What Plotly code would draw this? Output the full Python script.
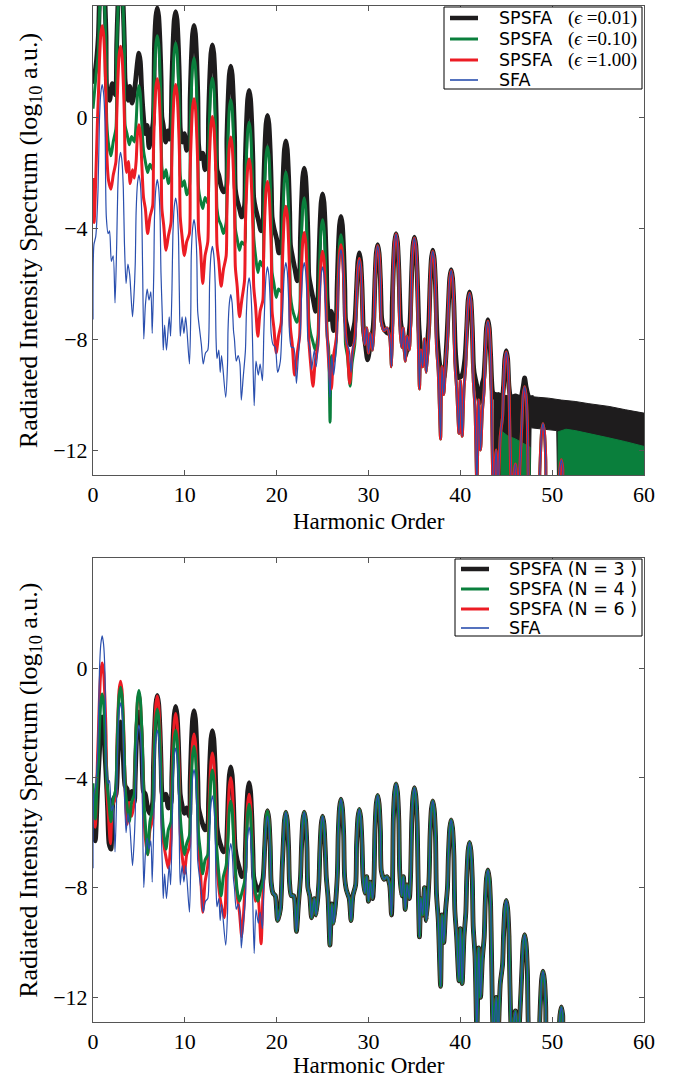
import plotly.graph_objects as go

# ---------------- data (harmonic order, log10 intensity) ----------------
ODD = list(range(1, 52, 2))

# SFA spectrum (same in both panels)
sfa_peaks = [1.17, -1.27, -2.08, -2.26, -2.92, -3.70, -4.66, -6.40, -5.80, -5.40,
             -5.25, -5.25, -5.40, -4.78, -5.15, -4.64, -4.22, -4.36, -4.84, -5.53,
             -6.35, -7.36, -8.47, -9.72, -11.05, -12.35]
sfa_floor = [(0.0, -7.3), (0.1, -4.6), (0.3, -4.3), (0.55, -2.6),
             (1.45, -3.6), (1.65, -4.2), (1.8, -4.1), (2.0, -5.2), (2.2, -5.0), (2.4, -6.7), (2.58, -4.6),
             (3.42, -4.5), (3.6, -6.0), (3.8, -5.3), (4.0, -5.7), (4.3, -7.2), (4.45, -6.5), (4.6, -5.3),
             (5.4, -5.4), (5.53, -8.0), (5.7, -6.8), (5.9, -6.2), (6.1, -6.6), (6.3, -6.3), (6.45, -7.8), (6.62, -5.6),
             (7.4, -5.6), (7.55, -7.2), (7.65, -8.4), (7.8, -7.5), (8.0, -8.4), (8.3, -7.2), (8.45, -7.9), (8.6, -6.2),
             (9.4, -6.3), (9.5, -7.9), (9.7, -7.2), (9.9, -7.8), (10.1, -7.2), (10.5, -8.9), (10.65, -7.0),
             (11.4, -7.0), (11.55, -7.5), (11.8, -8.2), (12.0, -8.9), (12.25, -8.5), (12.5, -8.4), (12.62, -7.8),
             (13.4, -8.0), (13.5, -8.7), (13.7, -8.4), (13.85, -9.2), (14.0, -8.6), (14.45, -10.1), (14.65, -8.9),
             (15.4, -8.0), (15.6, -8.8), (15.8, -8.6), (16.0, -8.9), (16.15, -10.2), (16.35, -9.4), (16.6, -8.4),
             (17.4, -8.5), (17.55, -10.4), (17.75, -8.8), (18.0, -9.3), (18.2, -8.9), (18.45, -9.5), (18.6, -7.8),
             (19.4, -7.8), (19.6, -8.2), (19.85, -8.3), (20.1, -9.2), (20.4, -8.8), (20.6, -7.3),
             (21.4, -7.8), (21.6, -8.3), (21.85, -8.3), (22.15, -9.6), (22.35, -8.7), (22.6, -7.6),
             (23.4, -8.0), (23.6, -8.3), (23.8, -9.1), (24.1, -8.4), (24.3, -9.0), (24.6, -7.8),
             (25.4, -7.6), (25.6, -8.4), (25.8, -10.1), (26.0, -8.6), (26.2, -9.3), (26.6, -7.6),
             (27.4, -7.6), (27.6, -8.1), (27.9, -8.4), (28.1, -9.2), (28.3, -8.3), (28.6, -7.9),
             (29.4, -7.6), (29.6, -8.2), (29.8, -7.6), (30.0, -8.5), (30.2, -7.8), (30.45, -8.4), (30.6, -7.6),
             (31.4, -7.4), (31.7, -7.7), (32.0, -7.6), (32.3, -7.9), (32.5, -9.0), (32.62, -7.8),
             (33.4, -7.4), (33.6, -8.3), (33.8, -7.6), (34.0, -8.8), (34.2, -7.9), (34.45, -8.4), (34.6, -7.4),
             (35.4, -7.6), (35.55, -9.8), (35.7, -8.4), (35.9, -9.0), (36.1, -8.0), (36.3, -9.2), (36.6, -7.6),
             (37.4, -8.2), (37.6, -9.2), (37.85, -11.6), (38.0, -9.0), (38.2, -10.0), (38.4, -8.8), (38.6, -8.0),
             (39.4, -8.8), (39.6, -9.8), (39.85, -11.4), (40.0, -9.5), (40.2, -11.5), (40.4, -9.8), (40.6, -8.9),
             (41.4, -9.4), (41.6, -10.5), (41.8, -13.3), (42.0, -10.2), (42.2, -12.0), (42.4, -10.6), (42.6, -9.8),
             (43.4, -10.5), (43.6, -13.5), (43.9, -12.0), (44.1, -13.5), (44.35, -11.5), (44.6, -10.8),
             (45.4, -11.5), (45.6, -13.5), (46.0, -12.5), (46.3, -13.5), (46.6, -11.8),
             (47.4, -13.0), (47.6, -14.0), (48.5, -14.0), (48.65, -12.8),
             (49.35, -13.5), (49.6, -14.0), (50.5, -14.0), (50.7, -13.6),
             (51.3, -14.0), (52.0, -14.0), (60.0, -14.0)]

# measured profile of one harmonic arch: offset from the peak and drop below the peak value
arch_offset = [-0.42, -0.3, -0.15, 0.15, 0.3, 0.42]
arch_drop = [2.6, 1.3, 0.3, 0.3, 1.3, 2.6]

# top panel: SPSFA eps = 0.01
eps001_peaks = [5.5, 5.2, 2.3, 3.93, 3.8, 3.3, 2.6, 1.83, 0.96, 0.06, -0.86, -1.84,
                -2.77, -3.58, -4.9, -4.6, -4.2, -4.33, -4.8, -5.5, -6.3, -7.3, -8.42, -9.4]
eps001_floor = [(0.0, 1.2), (0.3, 1.8),
                (1.5, 1.0), (1.8, 0.6), (2.1, 1.2), (2.45, 0.8),
                (3.5, 1.3), (3.8, 0.6), (4.0, 1.1), (4.25, 0.5), (4.5, 0.9),
                (5.45, 0.2), (5.7, -0.6), (5.9, -0.3), (6.1, -1.1), (6.3, -0.7), (6.55, -0.2),
                (7.5, 0.0), (7.65, -0.3), (7.9, -0.9), (8.15, -0.5), (8.35, -0.8), (8.5, -0.3),
                (9.5, -0.4), (9.7, -0.9), (9.95, -0.6), (10.2, -1.2), (10.5, -0.8),
                (11.5, -1.0), (11.7, -1.5), (11.95, -1.3), (12.2, -1.9), (12.5, -1.5),
                (13.5, -1.9), (13.7, -2.1), (13.95, -2.5), (14.2, -2.7), (14.5, -2.6),
                (15.5, -2.6), (15.7, -3.0), (15.95, -3.3), (16.2, -3.6), (16.5, -3.2),
                (17.5, -2.9), (17.7, -3.3), (18.0, -3.7), (18.3, -4.1), (18.5, -3.9),
                (19.5, -3.6), (19.7, -4.0), (20.0, -4.4), (20.25, -4.9), (20.5, -4.7),
                (21.5, -4.6), (21.7, -5.0), (22.0, -5.5), (22.25, -5.9), (22.5, -5.6),
                (23.5, -5.7), (23.7, -6.1), (24.0, -6.6), (24.25, -7.0), (24.5, -6.5),
                (25.5, -6.6), (25.7, -7.3), (25.95, -7.0), (26.2, -7.7), (26.5, -7.2),
                (27.5, -7.3), (27.7, -7.6), (28.0, -8.2), (28.25, -7.8), (28.5, -7.4),
                (29.5, -7.8), (29.7, -8.3), (29.9, -8.75), (30.2, -8.2), (30.5, -7.6),
                (31.5, -7.4), (31.8, -7.7), (32.2, -7.8), (32.5, -7.6),
                (33.5, -7.4), (33.8, -8.0), (34.1, -8.6), (34.5, -7.5),
                (35.5, -7.6), (35.8, -8.6), (36.2, -8.8), (36.5, -7.8),
                (37.5, -8.0), (37.8, -9.0), (38.2, -9.4), (38.5, -8.2),
                (39.5, -8.6), (39.8, -9.4), (40.2, -9.3), (40.5, -8.7),
                (41.5, -9.2), (41.8, -9.7), (42.1, -10.3), (42.4, -9.6), (42.55, -9.4),
                (43.5, -9.9), (43.7, -10.1), (44.2, -10.0), (44.55, -10.1),
                (45.5, -10.1), (46.0, -10.05), (46.55, -10.1),
                (47.5, -10.1), (48.0, -10.1)]
# dense high-frequency tail of eps = 0.01 (upper / lower envelope)
eps001_band_top = [(43.6, -9.9), (44.5, -10.0), (45.6, -10.07), (47.0, -10.05), (48.5, -10.1),
                   (49.6, -10.13), (51.0, -10.2), (52.5, -10.25), (54.0, -10.33), (56.2, -10.43),
                   (58.0, -10.55), (60.0, -10.67)]
eps001_band_bot = [(43.6, -13.5), (47.6, -13.5), (47.7, -11.2), (50.5, -11.3), (50.6, -13.5), (60.0, -13.5)]

# top panel: SPSFA eps = 0.10
eps010_peaks = [5.0, 5.0, 1.13, 2.93, 2.67, 2.13, 1.41, 0.62, -0.19, -1.06, -1.98, -2.92, -3.70, -4.24, -5.10]
eps010_floor = [(0.0, 0.3), (0.3, 1.4),
                (1.5, -0.2), (1.7, -1.0), (1.95, -1.4), (2.2, -0.9), (2.5, -0.4),
                (3.5, -0.3), (3.7, -0.6), (3.95, -1.0), (4.2, -0.7), (4.5, -0.9),
                (5.5, -1.2), (5.7, -1.6), (5.95, -2.0), (6.2, -1.7), (6.5, -1.9),
                (7.5, -1.8), (7.7, -2.2), (7.95, -1.9), (8.2, -2.4), (8.5, -2.1),
                (9.5, -2.1), (9.7, -2.5), (9.95, -2.3), (10.2, -2.8), (10.5, -2.5),
                (11.5, -2.6), (11.7, -3.0), (11.95, -3.3), (12.2, -2.9), (12.5, -3.1),
                (13.5, -3.3), (13.7, -3.7), (13.95, -3.9), (14.2, -4.2), (14.5, -3.8),
                (15.5, -4.0), (15.7, -4.4), (15.95, -4.8), (16.2, -4.5), (16.5, -4.6),
                (17.5, -4.3), (17.7, -5.0), (17.95, -5.6), (18.2, -5.2), (18.5, -5.4),
                (19.5, -5.6), (19.7, -6.0), (19.95, -6.5), (20.2, -6.2), (20.5, -6.3),
                (21.5, -6.4), (21.7, -6.9), (21.95, -7.2), (22.2, -7.4), (22.5, -7.0),
                (23.5, -7.3), (23.7, -7.8), (23.95, -8.1), (24.2, -8.4), (24.5, -7.9),
                (25.5, -7.9), (25.65, -8.3), (25.82, -11.0), (26.0, -8.6), (26.25, -8.8), (26.5, -8.0),
                (27.5, -8.2), (27.7, -8.6), (28.0, -9.7), (28.2, -8.9), (28.5, -8.2)]
eps010_band_top = [[(44.4, -11.3), (45.2, -11.5), (46.0, -11.6), (46.8, -11.75), (47.6, -11.9)],
                   [(50.6, -11.35), (51.5, -11.25), (52.5, -11.3), (54.0, -11.4), (56.0, -11.55),
                    (58.0, -11.7), (60.0, -11.87)]]

# top panel: SPSFA eps = 1.00
eps100_peaks = [3.29, 2.55, -0.28, 1.38, 1.17, 0.66, 0.02, -0.72, -1.51, -2.32, -3.22, -4.16, -4.84, -4.60, -5.10]
eps100_floor = [(0.0, -2.2), (0.12, -3.8), (0.5, 0.0),
                (1.5, -1.3), (1.7, -2.3), (1.95, -2.6), (2.2, -2.1), (2.5, -1.6),
                (3.5, -1.5), (3.65, -2.0), (3.85, -1.6), (4.05, -2.4), (4.3, -1.9), (4.5, -2.2),
                (5.5, -2.9), (5.7, -3.3), (5.95, -4.2), (6.2, -3.6), (6.5, -3.2),
                (7.5, -3.3), (7.7, -3.9), (7.95, -4.8), (8.2, -4.3), (8.5, -3.8),
                (9.5, -3.6), (9.7, -4.3), (9.95, -5.0), (10.2, -4.5), (10.5, -4.2),
                (11.5, -4.1), (11.7, -4.7), (11.95, -6.0), (12.2, -5.0), (12.5, -4.5),
                (13.5, -4.6), (13.7, -5.2), (13.95, -6.1), (14.2, -5.5), (14.5, -5.0),
                (15.5, -5.4), (15.7, -6.1), (15.95, -7.2), (16.2, -6.6), (16.5, -5.9),
                (17.5, -6.1), (17.7, -6.8), (17.95, -7.9), (18.2, -7.0), (18.5, -6.6),
                (19.5, -7.0), (19.7, -7.6), (19.95, -8.5), (20.2, -7.9), (20.5, -7.4),
                (21.5, -7.6), (21.7, -8.2), (21.95, -9.3), (22.2, -8.6), (22.5, -7.9),
                (23.5, -8.0), (23.7, -8.9), (23.95, -9.7), (24.2, -8.8), (24.5, -8.2),
                (25.5, -7.9), (25.7, -9.0), (25.95, -9.8), (26.2, -8.6), (26.5, -8.0),
                (27.5, -7.8), (27.7, -8.4), (27.95, -9.6), (28.2, -8.6), (28.5, -8.0)]

# bottom panel: SPSFA N = 3, 4, 6
n3_peaks = [-1.78, -1.96, -1.6, -1.0, -1.4, -1.55, -2.28, -3.6, -4.18, -5.2]
n3_floor = [(0.0, -5.0), (0.25, -6.3), (0.5, -4.4),
            (1.5, -4.4), (1.6, -5.2), (1.75, -6.4), (1.95, -6.6), (2.2, -4.8), (2.5, -4.6),
            (3.5, -4.3), (3.7, -4.4), (3.95, -4.8), (4.2, -4.5), (4.5, -4.9),
            (5.5, -4.5), (5.7, -4.6), (5.95, -5.1), (6.2, -5.3), (6.5, -4.9),
            (7.5, -4.5), (7.7, -4.8), (7.95, -4.6), (8.2, -5.1), (8.5, -4.9),
            (9.5, -4.6), (9.7, -5.0), (9.95, -5.3), (10.2, -5.1), (10.5, -5.4),
            (11.5, -5.1), (11.7, -5.4), (11.95, -5.7), (12.2, -5.9), (12.5, -5.7),
            (13.5, -5.8), (13.7, -6.2), (13.95, -6.5), (14.2, -6.7), (14.5, -6.6),
            (15.5, -6.6), (15.7, -7.0), (15.95, -7.3), (16.2, -7.6), (16.5, -7.5),
            (17.5, -7.6), (17.7, -7.9), (17.95, -8.1), (18.2, -8.0), (18.5, -7.7)]
n4_peaks = [-0.95, -0.7, -0.82, -1.5, -2.27, -2.86, -3.72, -4.85, -4.96, -5.2]
n4_floor = [(0.0, -4.2), (0.25, -5.5), (0.5, -3.8),
            (1.5, -4.1), (1.7, -4.8), (1.95, -5.6), (2.2, -4.8), (2.5, -4.4),
            (3.5, -4.4), (3.7, -5.0), (3.95, -5.6), (4.2, -4.9), (4.5, -4.6),
            (5.5, -4.6), (5.7, -5.7), (5.95, -6.8), (6.2, -5.6), (6.5, -5.1),
            (7.5, -5.0), (7.7, -6.0), (7.95, -6.6), (8.2, -5.9), (8.5, -5.6),
            (9.5, -5.4), (9.7, -6.2), (9.95, -6.8), (10.2, -6.4), (10.5, -6.1),
            (11.5, -6.1), (11.7, -6.7), (11.95, -7.5), (12.2, -7.0), (12.5, -6.8),
            (13.5, -6.7), (13.7, -7.5), (13.95, -8.3), (14.2, -7.6), (14.5, -7.2),
            (15.5, -7.3), (15.7, -8.1), (15.95, -8.5), (16.2, -8.2), (16.5, -7.8),
            (17.5, -7.6), (17.7, -8.2), (17.95, -8.5), (18.25, -8.1), (18.5, -7.8)]
n6_peaks = [0.18, -0.48, -0.9, -1.02, -1.66, -2.4, -3.1, -4.0, -4.6, -5.2]
n6_floor = [(0.0, -4.6), (0.25, -5.8), (0.5, -3.2),
            (1.5, -4.4), (1.7, -5.5), (1.9, -6.4), (2.15, -5.0), (2.5, -4.7),
            (3.5, -4.5), (3.7, -5.7), (3.95, -4.9), (4.2, -5.4), (4.5, -4.8),
            (5.5, -5.0), (5.7, -6.2), (5.95, -6.8), (6.2, -5.9), (6.5, -5.5),
            (7.5, -5.6), (7.7, -6.4), (7.95, -6.9), (8.2, -7.3), (8.5, -6.2),
            (9.5, -6.0), (9.7, -6.8), (9.95, -7.5), (10.2, -6.8), (10.5, -6.5),
            (11.5, -6.6), (11.7, -7.4), (11.95, -8.9), (12.2, -7.8), (12.5, -7.2),
            (13.5, -7.2), (13.7, -8.0), (13.95, -8.6), (14.3, -9.1), (14.5, -7.9),
            (15.5, -7.5), (15.7, -8.3), (15.95, -8.9), (16.2, -9.8), (16.5, -8.3),
            (17.5, -7.8), (17.7, -8.5), (17.95, -8.3), (18.3, -10.05), (18.5, -8.3)]

x_ticks = [0, 10, 20, 30, 40, 50, 60]
y_ticks = [0, -4, -8, -12]

x_title = 'Harmonic Order'
y_title = 'Radiated Intensity Spectrum (log<sub>10</sub> a.u.)'
top_names = ['SPSFA', 'SPSFA', 'SPSFA', 'SFA']
top_eps = ['(<i>\u03f5</i> =0.01)', '(<i>\u03f5</i> =0.10)', '(<i>\u03f5</i> =1.00)', '']
bottom_names = ['SPSFA (N = 3 )', 'SPSFA (N = 4 )', 'SPSFA (N = 6 )', 'SFA']

# ---------------- build ----------------
BLACK, GREEN, RED, BLUE = '#1e1c1d', '#0a7f3c', '#ec1c24', '#2a4fae'


def build(peaks, floor, tail_after=None):
    pk = list(zip(ODD[:len(peaks)], peaks))
    fl = list(floor)
    if tail_after is not None:
        pk = [p for p in pk if p[0] <= tail_after] + [p for p in zip(ODD, sfa_peaks) if p[0] > tail_after]
        fl = [p for p in fl if p[0] <= tail_after] + [p for p in sfa_floor if p[0] > tail_after]
    fl.sort()
    pts = pk + fl
    for (h, v) in pk:
        left = [p for p in fl if p[0] < h]
        right = [p for p in fl if p[0] > h]
        for off, drop in zip(arch_offset, arch_drop):
            nb = (left[-1] if left else None) if off < 0 else (right[0] if right else None)
            if nb is None or (abs(nb[0] - h) > abs(off) + 0.04 and v - drop > nb[1] + 0.15):
                pts.append((h + off, v - drop))
    pts.sort()
    return [p[0] for p in pts], [p[1] for p in pts]


fig = go.Figure()


def line(x, y, color, width, xa, ya):
    fig.add_trace(go.Scatter(x=x, y=y, mode='lines', showlegend=False, hoverinfo='skip',
                             line=dict(color=color, width=width, shape='spline', smoothing=0.7),
                             xaxis=xa, yaxis=ya))


def band(top, bot, color, xa, ya):
    xs = [p[0] for p in top] + [p[0] for p in reversed(bot)]
    ys = [p[1] for p in top] + [p[1] for p in reversed(bot)]
    fig.add_trace(go.Scatter(x=xs, y=ys, mode='lines', fill='toself', fillcolor=color,
                             line=dict(color=color, width=1), xaxis=xa, yaxis=ya,
                             showlegend=False, hoverinfo='skip'))


sfa_x, sfa_y = build(sfa_peaks, sfa_floor)

# top panel
band(eps001_band_top, eps001_band_bot, BLACK, 'x', 'y')
line(*build(eps001_peaks, eps001_floor), BLACK, 4.8, 'x', 'y')
for seg in eps010_band_top:
    band(seg, [(seg[0][0], -13.5), (seg[-1][0], -13.5)], GREEN, 'x', 'y')
line(*build(eps010_peaks, eps010_floor, 29.3), GREEN, 3, 'x', 'y')
line(*build(eps100_peaks, eps100_floor, 29.3), RED, 3, 'x', 'y')
line(sfa_x, sfa_y, BLUE, 1.2, 'x', 'y')

# bottom panel
line(*build(n3_peaks, n3_floor, 19.2), BLACK, 4.8, 'x2', 'y2')
line(*build(n6_peaks, n6_floor, 19.2), RED, 3, 'x2', 'y2')
line(*build(n4_peaks, n4_floor, 19.2), GREEN, 3, 'x2', 'y2')
line(sfa_x, sfa_y, BLUE, 1.2, 'x2', 'y2')

# ---------------- layout ----------------
W, H = 678, 1079
ML, MR, MT, MB = 93, 34, 6, 57
PW, PH = W - ML - MR, H - MT - MB


def px(x):
    return (x - ML) / PW


def py(y):
    return (H - MB - y) / PH


SERIF = 'Liberation Serif'
SANS = 'DejaVu Sans'
axis_common = dict(showline=True, mirror='ticks', linecolor='#555555', linewidth=1,
                   ticks='inside', ticklen=5, tickcolor='#555555', showgrid=False, zeroline=False,
                   tickfont=dict(family=SERIF, size=22, color='black'))
xcommon = dict(axis_common, range=[0, 60], tickvals=x_ticks)
ycommon = dict(axis_common, range=[-12.9, 4.0], tickvals=y_ticks,
               title=dict(text=y_title, font=dict(family=SERIF, size=26, color='black'), standoff=8))

shapes, annotations = [], []
colors = [BLACK, GREEN, RED, BLUE]
widths = [4.5, 3, 3, 1.6]

# x-axis titles (placed just under the tick labels of each panel)
for yc in (521, 1065.5):
    annotations.append(dict(xref='paper', yref='paper', x=0.5, y=py(yc), xanchor='center', yanchor='middle',
                            showarrow=False, text=x_title, font=dict(family=SERIF, size=23, color='black')))


def legend_box(x0, y0, x1, y1, rows, sample_x0, sample_x1, text_x, names, extras, extra_x):
    shapes.append(dict(type='rect', xref='paper', yref='paper', x0=px(x0), x1=px(x1), y0=py(y1), y1=py(y0),
                       line=dict(color='black', width=1), fillcolor='white', layer='above'))
    for i, yc in enumerate(rows):
        shapes.append(dict(type='line', xref='paper', yref='paper', x0=px(sample_x0), x1=px(sample_x1),
                           y0=py(yc), y1=py(yc), line=dict(color=colors[i], width=widths[i]), layer='above'))
        annotations.append(dict(xref='paper', yref='paper', x=px(text_x), y=py(yc), xanchor='left',
                                yanchor='middle', showarrow=False, text=names[i],
                                font=dict(family=SANS, size=17.5, color='black')))
        if extras and extras[i]:
            annotations.append(dict(xref='paper', yref='paper', x=px(extra_x), y=py(yc), xanchor='left',
                                    yanchor='middle', showarrow=False, text=extras[i],
                                    font=dict(family=SERIF, size=19, color='black')))


legend_box(444, 7, 642, 89, [18, 39, 60, 80], 450, 478, 497, top_names, top_eps, 566)
legend_box(455, 559, 642, 636, [569, 589, 609, 628], 461, 489, 507, bottom_names, None, 0)

fig.update_layout(
    width=W, height=H, paper_bgcolor='white', plot_bgcolor='white',
    margin=dict(l=ML, r=MR, t=MT, b=MB),
    xaxis=dict(xcommon, anchor='y', domain=[0, 1]),
    yaxis=dict(ycommon, anchor='x', domain=[py(475), 1.0]),
    xaxis2=dict(xcommon, anchor='y2', domain=[0, 1]),
    yaxis2=dict(ycommon, anchor='x2', domain=[0.0, py(558.3)]),
    showlegend=False,
    shapes=shapes, annotations=annotations,
)

fig.write_html('out.html')
